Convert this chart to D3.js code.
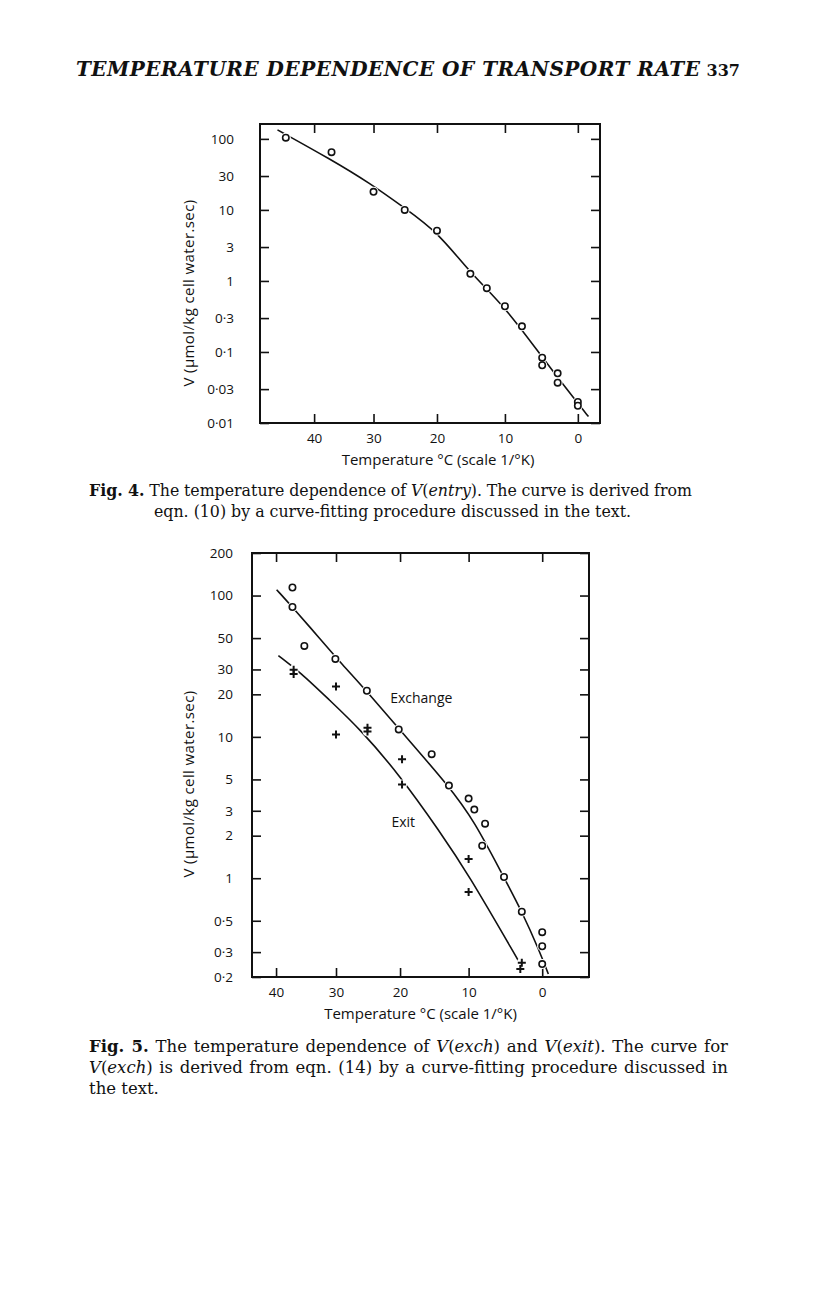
<!DOCTYPE html>
<html>
<head>
<meta charset="utf-8">
<script src="https://d3js.org/d3.v7.min.js"></script>
<style>
  body { margin: 0; background: #fff; }
  svg { display: block; }
</style>
</head>
<body>
<script>
// ---- data ----
const xTicks = [40, 30, 20, 10, 0];

// Fig. 4, V(entry)
const entryTicks = [100, 30, 10, 3, 1, 0.3, 0.1, 0.03, 0.01];
const entryTemp = [45, 37, 30, 25, 20, 15, 12.6, 10, 7.6, 4.8, 4.8, 2.7, 2.7, 0, 0];
const entryRate = [104, 65, 18, 10, 5.1, 1.26, 0.79, 0.44, 0.23, 0.083, 0.065, 0.05, 0.037, 0.0198, 0.0175];
const entryCurveTemp = [46.5, 37.2, 30.6, 25.2, 19.8, 15, 10, 4.7, 0, -1.4];
const entryCurveRate = [134, 51.8, 23.8, 10.9, 4.8, 1.28, 0.435, 0.0815, 0.0189, 0.0123];

// Fig. 5, V(exch) circles and V(exit) crosses
const exchTicks = [200, 100, 50, 30, 20, 10, 5, 3, 2, 1, 0.5, 0.3, 0.2];
const exchTemp = [37.2, 37.2, 35.2, 30.1, 25.1, 20.2, 15.3, 12.8, 10, 9.2, 7.7, 8.1, 5.1, 2.7, 0, 0, 0];
const exchRate = [114, 83, 44, 35.6, 21.2, 11.3, 7.55, 4.52, 3.66, 3.06, 2.43, 1.70, 1.02, 0.58, 0.415, 0.33, 0.247];
const exitTemp = [37, 37, 30, 30, 25, 25, 19.7, 19.7, 10, 10, 2.7, 2.9];
const exitRate = [29.8, 27.9, 22.7, 10.4, 11.6, 10.9, 6.95, 4.6, 1.37, 0.80, 0.252, 0.228];
const exchCurveTemp = [39.9, 37.2, 32.6, 29.1, 25.1, 20.1, 12.8, 9.2, 5.2, 2.7, 0.3, -0.8];
const exchCurveRate = [110, 82.8, 49.4, 32.9, 21.0, 11.3, 4.48, 2.54, 1.03, 0.584, 0.30, 0.21];
const exitCurveTemp = [39.6, 35.9, 31.0, 26.2, 20.0, 14.1, 10.2, 3.1, 2.7];
const exitCurveRate = [37.6, 28.7, 18.1, 11.4, 5.32, 2.13, 1.10, 0.258, 0.236];

const serif = "'DejaVu Serif', 'Liberation Serif', serif";
const sans = "'Open Sans', 'DejaVu Sans', sans-serif";

const svg = d3.select("body").append("svg")
  .attr("width", 816)
  .attr("height", 1296);

const inv = t => 1 / (t + 273.15);
const fmt = d => String(d).replace(".", "\u00b7");
const zip = (a, b) => a.map((v, i) => [v, b[i]]);

// one framed panel, x on a 1/°K scale, y logarithmic
function panel(o) {
  const xk = d3.scaleLinear().domain([inv(o.tLeft), inv(o.tRight)]).range([o.left, o.right]);
  const x = t => xk(inv(t));
  const y = d3.scaleLog().domain([o.vMin, o.vMax]).range([o.bottom, o.top]);
  const g = svg.append("g");

  const kTicks = xTicks.map(inv);
  const tickFmtX = k => Math.round(1 / k - 273.15);

  const axes = [
    [d3.axisBottom(xk).tickValues(kTicks).tickFormat(tickFmtX).tickSize(-9).tickPadding(10), `translate(0,${o.bottom})`],
    [d3.axisTop(xk).tickValues(kTicks).tickFormat("").tickSize(-9), `translate(0,${o.top})`],
    [d3.axisLeft(y).tickValues(o.yTicks).tickFormat(fmt).tickSize(-9).tickPadding(o.labelPad), `translate(${o.left},0)`],
    [d3.axisRight(y).tickValues(o.yTicks).tickFormat("").tickSize(-9), `translate(${o.right},0)`]
  ];
  axes.forEach(([ax, tr]) => {
    const a = g.append("g").attr("transform", tr).call(ax);
    a.select(".domain").remove();
    a.selectAll("line").attr("stroke", "#111").attr("stroke-width", 1.6);
    a.selectAll("text").attr("font-family", sans).attr("font-size", 13.5).attr("fill", "#111");
  });

  g.append("rect")
    .attr("x", o.left).attr("y", o.top)
    .attr("width", o.right - o.left).attr("height", o.bottom - o.top)
    .attr("fill", "none").attr("stroke", "#111").attr("stroke-width", 2);

  g.append("text")
    .attr("x", (o.left + o.right) / 2 + o.xLabelShift).attr("y", o.bottom + 42)
    .attr("text-anchor", "middle")
    .attr("font-family", sans).attr("font-size", 15).attr("fill", "#111")
    .text("Temperature \u00b0C (scale 1/\u00b0K)");

  g.append("text")
    .attr("transform", `translate(194,${o.yLabelMid}) rotate(-90)`)
    .attr("text-anchor", "middle")
    .attr("font-family", sans).attr("font-size", 15).attr("fill", "#111")
    .attr("letter-spacing", 0.4)
    .text("V (\u03bcmol/kg cell water.sec)");

  const line = d3.line().x(d => x(d[0])).y(d => y(d[1])).curve(d3.curveBasis);
  o.curves.forEach(c => {
    g.append("path").datum(c).attr("d", line)
      .attr("fill", "none").attr("stroke", "#111").attr("stroke-width", 1.6);
  });

  // white halos first so the curve breaks round each mark
  o.marks.forEach(m => {
    g.append("g").selectAll("circle").data(m.data).join("circle")
      .attr("cx", d => x(d[0])).attr("cy", d => y(d[1]))
      .attr("r", 5).attr("fill", "#fff");
  });
  o.marks.forEach(m => {
    const sel = g.append("g").selectAll("g").data(m.data).join("g")
      .attr("transform", d => `translate(${x(d[0])},${y(d[1])})`);
    if (m.type === "circle") {
      sel.append("circle").attr("r", 3.2)
        .attr("fill", "#fff").attr("stroke", "#111").attr("stroke-width", 1.6);
    } else {
      sel.append("path").attr("d", "M-4,0H4M0,-4V4")
        .attr("stroke", "#111").attr("stroke-width", 2);
    }
  });

  (o.notes || []).forEach(n => {
    g.append("text").attr("x", x(n.t)).attr("y", y(n.v))
      .attr("font-family", sans).attr("font-size", 14).attr("fill", "#111")
      .text(n.text);
  });
}

panel({
  left: 260, right: 600, top: 124, bottom: 423,
  tLeft: 49.7, tRight: -2.9, vMin: 0.01, vMax: 162,
  yTicks: entryTicks, labelPad: 26, xLabelShift: 8, yLabelMid: 293,
  curves: [zip(entryCurveTemp, entryCurveRate)],
  marks: [{ type: "circle", data: zip(entryTemp, entryRate) }]
});

panel({
  left: 252, right: 589, top: 553, bottom: 977,
  tLeft: 44.2, tRight: -6.0, vMin: 0.2, vMax: 200,
  yTicks: exchTicks, labelPad: 19, xLabelShift: 0, yLabelMid: 784,
  curves: [zip(exchCurveTemp, exchCurveRate), zip(exitCurveTemp, exitCurveRate)],
  marks: [
    { type: "circle", data: zip(exchTemp, exchRate) },
    { type: "cross", data: zip(exitTemp, exitRate) }
  ],
  notes: [
    { t: 21.5, v: 17.4, text: "Exchange" },
    { t: 21.3, v: 2.3, text: "Exit" }
  ]
});

// ---- running head and captions ----
const head = svg.append("text")
  .attr("x", 76).attr("y", 76)
  .attr("font-family", serif).attr("font-size", 20)
  .attr("font-style", "italic").attr("font-weight", "bold")
  .attr("fill", "#111")
  .text("TEMPERATURE DEPENDENCE OF TRANSPORT RATE");
{
  const s = head.text();
  const len = head.node().getComputedTextLength();
  head.attr("letter-spacing", (624 - len) / (s.length - 1));
}
svg.append("text")
  .attr("x", 740).attr("y", 76).attr("text-anchor", "end")
  .attr("font-family", serif).attr("font-size", 16).attr("font-weight", "bold")
  .attr("fill", "#111")
  .text("337");

function caption(parts, y, x0, x1, mode, size) {
  const t = svg.append("text")
    .attr("x", x0).attr("y", y)
    .attr("font-family", serif).attr("font-size", size).attr("fill", "#111");
  parts.forEach(p => {
    t.append("tspan").text(p[0])
      .attr("font-style", p[1] === "i" ? "italic" : null)
      .attr("font-weight", p[1] === "b" ? "bold" : null);
  });
  const len = t.node().getComputedTextLength();
  if (mode === "justify") {
    const n = (t.text().match(/ /g) || []).length;
    t.attr("word-spacing", (x1 - x0 - len) / n);
  } else if (mode === "center") {
    t.attr("x", (x0 + x1) / 2).attr("text-anchor", "middle");
  }
}

caption([["Fig. 4.", "b"], [" The temperature dependence of "], ["V", "i"], ["("], ["entry", "i"],
  ["). The curve is derived from"]], 496, 89, 692, "justify", 15.8);
caption([["eqn. (10) by a curve-fitting procedure discussed in the text."]], 517, 122, 663, "center", 15.8);

caption([["Fig. 5.", "b"], [" The temperature dependence of "], ["V", "i"], ["("], ["exch", "i"],
  [") and "], ["V", "i"], ["("], ["exit", "i"], ["). The curve for"]], 1052, 89, 728, "justify", 16.5);
caption([["V", "i"], ["("], ["exch", "i"],
  [") is derived from eqn. (14) by a curve-fitting procedure discussed in"]], 1073, 89, 728, "justify", 16.5);
caption([["the text."]], 1094, 89, 728, "left", 16.5);
</script>
</body>
</html>
